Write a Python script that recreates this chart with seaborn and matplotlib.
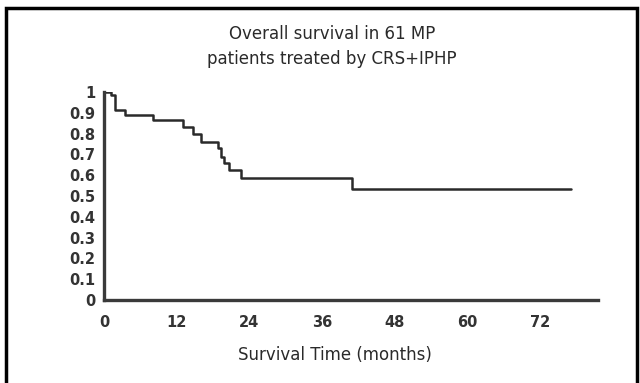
import pandas as pd
import matplotlib.pyplot as plt
import matplotlib.patches as mpatches
import seaborn as sns

# Kaplan-Meier steps (months, survival fraction)
months = [0, 1.2, 1.8, 3.5, 8.1, 13.1, 14.7, 16.1, 18.8, 19.3, 19.9, 20.7, 22.6, 41.0, 77.2]
survival = [1.0, 0.984, 0.913, 0.889, 0.865, 0.833, 0.80, 0.761, 0.729, 0.689, 0.657, 0.625, 0.585, 0.534, 0.534]

x_ticks = [0, 12, 24, 36, 48, 60, 72]
y_ticks = [0, 0.1, 0.2, 0.3, 0.4, 0.5, 0.6, 0.7, 0.8, 0.9, 1]
y_tick_labels = ["0", "0.1", "0.2", "0.3", "0.4", "0.5", "0.6", "0.7", "0.8", "0.9", "1"]

title_lines = ["Overall survival in 61 MP", "patients treated by CRS+IPHP"]
x_label = "Survival Time (months)"

sns.set_style("white")
plt.rcParams["font.family"] = ["DejaVu Sans"]

df = pd.DataFrame({"months": months, "survival": survival})

fig = plt.figure(figsize=(6.4, 3.83), dpi=100)
ax = fig.add_axes([104 / 640, 1 - 300 / 383, 494 / 640, 208 / 383])

sns.lineplot(data=df, x="months", y="survival", ax=ax, estimator=None, sort=False,
             drawstyle="steps-post", color="#2a2a2a", linewidth=1.8)

ax.set_xlim(0, 81.6)
ax.set_ylim(0, 1)
ax.set_xticks(x_ticks)
ax.set_yticks(y_ticks)
ax.set_yticklabels(y_tick_labels)
ax.tick_params(axis="both", length=0, labelsize=10.5, colors="#333333")
ax.tick_params(axis="y", pad=6)
ax.tick_params(axis="x", pad=11)
for lab in ax.get_xticklabels() + ax.get_yticklabels():
    lab.set_fontweight("bold")

for side in ["top", "right"]:
    ax.spines[side].set_visible(False)
for side in ["left", "bottom"]:
    ax.spines[side].set_color("#3a3a3a")
    ax.spines[side].set_linewidth(2.4)

ax.set_ylabel("")
ax.set_xlabel(x_label, fontsize=12, color="#2a2a2a")
ax.xaxis.set_label_coords((335 - 104) / 494, (300 - 346) / 208)

fig.text(332 / 640, 1 - 34 / 383, title_lines[0], ha="center", va="center",
         fontsize=12, color="#2a2a2a")
fig.text(332 / 640, 1 - 59 / 383, title_lines[1], ha="center", va="center",
         fontsize=12, color="#2a2a2a")

# outer frame of the original figure (bottom edge cut off)
frame = mpatches.Rectangle((6 / 640, -0.05), (637 - 6) / 640, 1.05 - 8 / 383,
                           transform=fig.transFigure, fill=False,
                           edgecolor="black", linewidth=2.5)
fig.patches.append(frame)

fig.savefig("out.png", dpi=100)
